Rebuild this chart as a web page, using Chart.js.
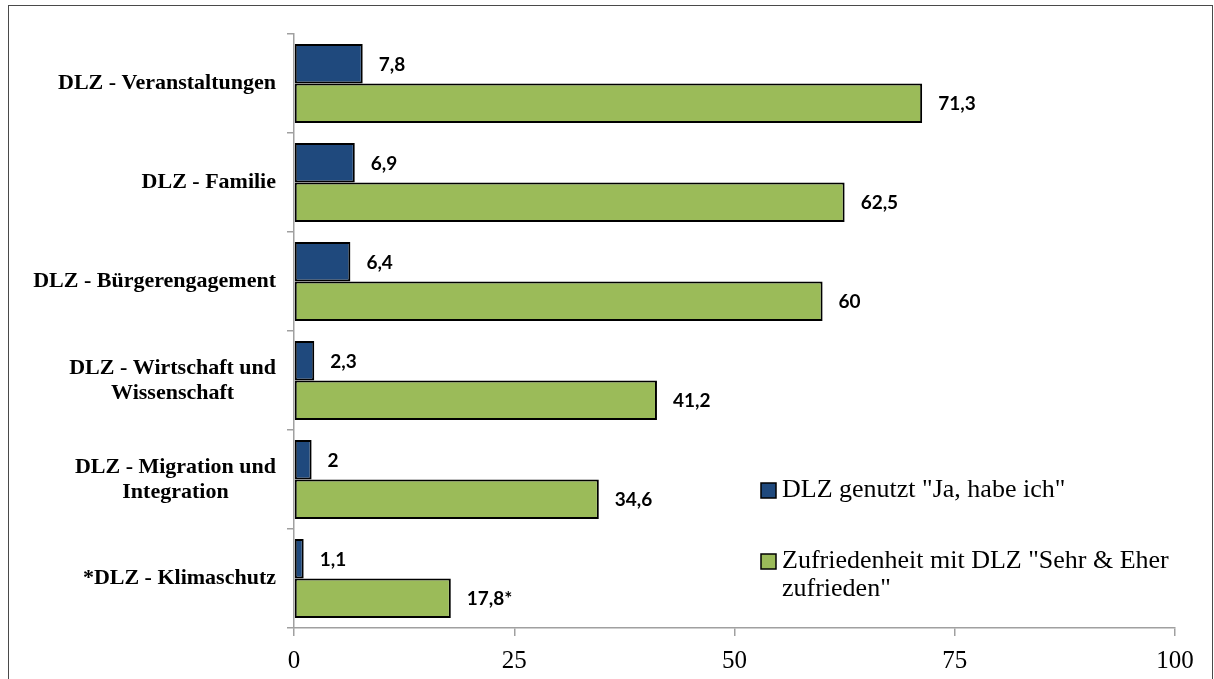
<!DOCTYPE html>
<html lang="de">
<head>
<meta charset="utf-8">
<title>DLZ Nutzung und Zufriedenheit</title>
<script src="https://cdn.jsdelivr.net/npm/chart.js@4/dist/chart.umd.min.js"></script>
<style>
    body { margin: 0; background: #fff; }
    #rahmen {
        position: absolute; left: 8px; top: 5px; width: 1203px; height: 700px;
        border: 1.5px solid #4a4a4a; pointer-events: none;
    }
    #wrap { position: absolute; left: 0; top: 0; width: 1214px; height: 679px; }
</style>
</head>
<body>
<div id="wrap"><canvas id="grafik"></canvas></div>
<div id="rahmen"></div>
<script>
// Kategorien (mehrzeilige Beschriftungen als Arrays)
const kategorien = [
    'DLZ - Veranstaltungen',
    'DLZ - Familie',
    'DLZ - Bürgerengagement',
    ['DLZ - Wirtschaft und', 'Wissenschaft'],
    ['DLZ - Migration und', 'Integration'],
    '*DLZ - Klimaschutz'
];

// Werte in Prozent
const genutzt = [7.8, 6.9, 6.4, 2.3, 2.0, 1.1];
const zufrieden = [71.3, 62.5, 60, 41.2, 34.6, 17.8];
const zufriedenHinweis = ['', '', '', '', '', '*'];

// Achse
const xTicks = [0, 25, 50, 75, 100];

const legendeGenutzt = 'DLZ genutzt "Ja, habe ich"';
const legendeZufrieden = 'Zufriedenheit mit DLZ "Sehr & Eher\nzufrieden"';

const SERIF = '"Liberation Serif", "Times New Roman", serif';

// Zahl im deutschen Format
function formatZahl(v) {
    return String(v).replace('.', ',');
}

// Kategorienbeschriftung: Block rechtsbündig, Zeilen zentriert
const achsenText = {
    id: 'achsenText',
    afterDraw(chart) {
        const ctx = chart.ctx;
        const y = chart.scales.y;
        ctx.save();
        ctx.font = 'bold 22px ' + SERIF;
        ctx.fillStyle = '#000';
        ctx.textAlign = 'center';
        ctx.textBaseline = 'middle';
        const rechts = chart.chartArea.left - 18;
        kategorien.forEach((lab, i) => {
            const zeilen = Array.isArray(lab) ? lab : [lab];
            const breite = Math.max(...zeilen.map(z => ctx.measureText(z).width));
            const cx = rechts - breite / 2;
            const cy = y.getPixelForValue(i);
            zeilen.forEach((z, j) => {
                ctx.fillText(z, cx, cy + (j - (zeilen.length - 1) / 2) * 25);
            });
        });
        ctx.restore();
    }
};

// Werte neben den Balken
const wertText = {
    id: 'wertText',
    afterDatasetsDraw(chart) {
        const ctx = chart.ctx;
        ctx.save();
        ctx.font = 'bold 19px Lato, "Open Sans", sans-serif';
        ctx.fillStyle = '#000';
        ctx.textAlign = 'left';
        ctx.textBaseline = 'middle';
        chart.data.datasets.forEach((ds, d) => {
            chart.getDatasetMeta(d).data.forEach((el, i) => {
                let txt = formatZahl(ds.data[i]);
                if (d === 1) txt += zufriedenHinweis[i];
                ctx.fillText(txt, el.x + 16, el.y + 1);
            });
        });
        ctx.restore();
    }
};

// Legende im Diagrammbereich unten rechts
const legendeInnen = {
    id: 'legendeInnen',
    afterDraw(chart) {
        const ctx = chart.ctx;
        const positionen = [490, 561];
        ctx.save();
        ctx.font = '26px ' + SERIF;
        ctx.textAlign = 'left';
        ctx.textBaseline = 'middle';
        chart.data.datasets.forEach((ds, d) => {
            const y = positionen[d];
            ctx.fillStyle = ds.backgroundColor;
            ctx.fillRect(761, y - 7, 15, 15);
            ctx.strokeStyle = '#000';
            ctx.lineWidth = 1.5;
            ctx.strokeRect(761, y - 7, 15, 15);
            ctx.fillStyle = '#000';
            ds.label.split('\n').forEach((z, j) => {
                ctx.fillText(z, 782, y + j * 28);
            });
        });
        ctx.restore();
    }
};

function crearGrafico() {
    const ctx = document.getElementById('grafik').getContext('2d');
    return new Chart(ctx, {
        type: 'bar',
        data: {
            labels: kategorien,
            datasets: [{
                label: legendeGenutzt,
                data: genutzt,
                backgroundColor: '#1F497D',
                borderColor: '#000',
                borderWidth: 2,
                borderSkipped: false
            }, {
                label: legendeZufrieden,
                data: zufrieden,
                backgroundColor: '#9BBB59',
                borderColor: '#000',
                borderWidth: 2,
                borderSkipped: false
            }]
        },
        options: {
            indexAxis: 'y',
            responsive: true,
            maintainAspectRatio: false,
            animation: false,
            categoryPercentage: 0.8,
            barPercentage: 1.0,
            layout: { padding: { top: 34, right: 39, left: 0, bottom: 0 } },
            plugins: {
                legend: { display: false },
                tooltip: { enabled: false }
            },
            scales: {
                x: {
                    min: 0,
                    max: 100,
                    afterBuildTicks: (s) => { s.ticks = xTicks.map(v => ({ value: v })); },
                    afterFit: (s) => { s.height = 51; },
                    grid: { drawOnChartArea: false, tickLength: 8, color: '#a0a0a0', lineWidth: 1.5 },
                    border: { color: '#a0a0a0', width: 1.5 },
                    ticks: {
                        color: '#000',
                        padding: 10,
                        font: { family: SERIF, size: 25 }
                    }
                },
                y: {
                    afterFit: (s) => { s.width = 294; },
                    grid: { offset: true, drawOnChartArea: false, tickLength: 7, color: '#a0a0a0', lineWidth: 1.5 },
                    border: { color: '#a0a0a0', width: 1.5 },
                    ticks: { display: false }
                }
            }
        },
        plugins: [achsenText, wertText, legendeInnen]
    });
}

window.addEventListener('load', () => {
    crearGrafico();
});
</script>
</body>
</html>
